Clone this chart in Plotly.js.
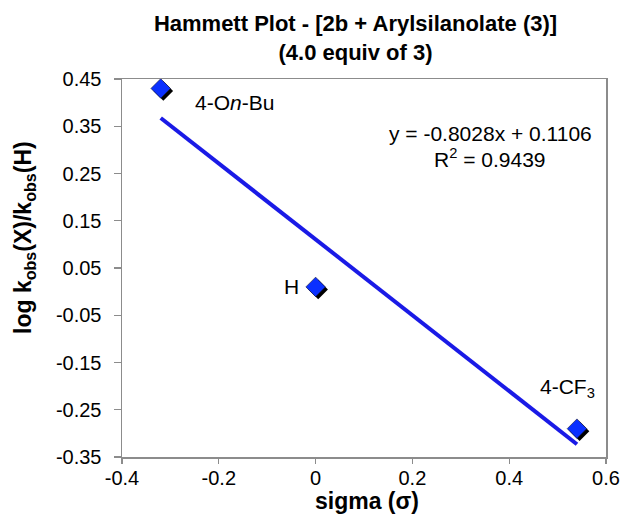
<!DOCTYPE html>
<html><head><meta charset="utf-8">
<script src="https://cdn.plot.ly/plotly-3.0.1.min.js"></script>
<style>html,body{margin:0;padding:0;background:#fff}#chart{width:622px;height:516px}</style>
</head><body><div id="chart"></div>
<script>
const labels = ['4-O<i>n</i>-Bu', 'H', '4-CF<sub>3</sub>'];
const sigma = [-0.32, 0.0, 0.54];
const logRatio = [0.43, 0.01, -0.29];
const slope = -0.8028;
const intercept = 0.1106;
const r2 = 0.9439;
const xTicks = [-0.4, -0.2, 0, 0.2, 0.4, 0.6];
const yTicks = [-0.35, -0.25, -0.15, -0.05, 0.05, 0.15, 0.25, 0.35, 0.45];

const xr = [-0.4, 0.6], yr = [-0.35, 0.45];
const L = 122, T = 79, W = 484, H = 378;
const px = x => (x - L) / W;          // pixel -> paper x
const py = y => (T + H - y) / H;      // pixel -> paper y
const sh = 2.6; // shadow offset px
const dx = sh * (xr[1]-xr[0]) / W, dy = sh * (yr[1]-yr[0]) / H;

const xMin = Math.min(...sigma), xMax = Math.max(...sigma);
const font = 'Liberation Sans, Arial, Helvetica, sans-serif';

const traces = [
  {x: [xMin, xMax], y: [slope*xMin+intercept, slope*xMax+intercept], mode: 'lines', type: 'scatter',
   line: {color: '#1a1ae6', width: 4}},
  {x: sigma, y: logRatio, xaxis: 'x2', yaxis: 'y2', mode: 'markers', type: 'scatter',
   marker: {symbol: 'diamond', size: 15, color: '#000'}, hoverinfo: 'skip'},
  {x: sigma, y: logRatio, xaxis: 'x3', yaxis: 'y3', mode: 'markers', type: 'scatter',
   marker: {symbol: 'diamond', size: 15, color: '#0a30ff', line: {color: '#101030', width: 0.6}}}
];

const axBase = {showgrid: false, zeroline: false, showline: true, linecolor: '#8c8c8c', linewidth: 1.5, mirror: true,
  ticks: 'outside', tickcolor: '#8c8c8c', tickwidth: 1.3, tickfont: {family: font, size: 20, color: '#000'}};

const layout = {
  width: 622, height: 516, showlegend: false,
  margin: {l: L, r: 622 - L - W, t: T, b: 516 - T - H},
  paper_bgcolor: '#fff', plot_bgcolor: '#fff',
  title: {text: '<b>Hammett Plot - [2b + Arylsilanolate (3)]<br>(4.0 equiv of 3)</b>',
    font: {family: font, size: 22, color: '#000'}, x: 355.5/622, xanchor: 'center', y: 1 - 31/516, yanchor: 'top'},
  xaxis: Object.assign({}, axBase, {range: xr, tickvals: xTicks, ticktext: xTicks.map(v => String(v)),
    ticklen: 5, ticklabelstandoff: -3}),
  yaxis: Object.assign({}, axBase, {range: yr, tickvals: yTicks, ticktext: yTicks.map(v => v.toFixed(2)),
    ticklen: 7, ticklabelstandoff: 8}),
  xaxis2: {overlaying: 'x', range: [xr[0]-dx, xr[1]-dx], visible: false},
  yaxis2: {overlaying: 'y', range: [yr[0]+dy, yr[1]+dy], visible: false},
  xaxis3: {overlaying: 'x', range: xr, visible: false},
  yaxis3: {overlaying: 'y', range: yr, visible: false},
  annotations: [
    {xref: 'paper', yref: 'paper', x: px(367), y: py(501), xanchor: 'center', yanchor: 'middle', showarrow: false,
     text: '<b>sigma (σ)</b>', font: {family: font, size: 23, color: '#000'}},
    {xref: 'paper', yref: 'paper', x: px(25), y: py(238), xanchor: 'center', yanchor: 'middle', showarrow: false,
     textangle: -90, text: '<b>log k<sub>obs</sub>(X)/k<sub>obs</sub>(H)</b>', font: {family: font, size: 23, color: '#000'}},
    {x: sigma[0], y: logRatio[0], text: labels[0], showarrow: false, xanchor: 'left', yanchor: 'middle',
     xshift: 32, yshift: -14.5, font: {family: font, size: 21, color: '#000'}},
    {x: sigma[1], y: logRatio[1], text: labels[1], showarrow: false, xanchor: 'right', yanchor: 'middle',
     xshift: -14.5, yshift: 0, font: {family: font, size: 21, color: '#000'}},
    {x: sigma[2], y: logRatio[2], text: labels[2], showarrow: false, xanchor: 'right', yanchor: 'middle',
     xshift: 20.5, yshift: 41, font: {family: font, size: 21, color: '#000'}},
    {xref: 'paper', yref: 'paper', x: px(594), y: py(133), xanchor: 'right', yanchor: 'middle', showarrow: false,
     text: 'y = ' + slope.toFixed(4) + 'x + ' + intercept.toFixed(4), font: {family: font, size: 21, color: '#000'}},
    {xref: 'paper', yref: 'paper', x: px(548), y: py(158), xanchor: 'right', yanchor: 'middle', showarrow: false,
     text: 'R<sup>2</sup> = ' + r2.toFixed(4), font: {family: font, size: 21, color: '#000'}}
  ]
};
Plotly.newPlot('chart', traces, layout, {displayModeBar: false, staticPlot: true});
</script></body></html>
